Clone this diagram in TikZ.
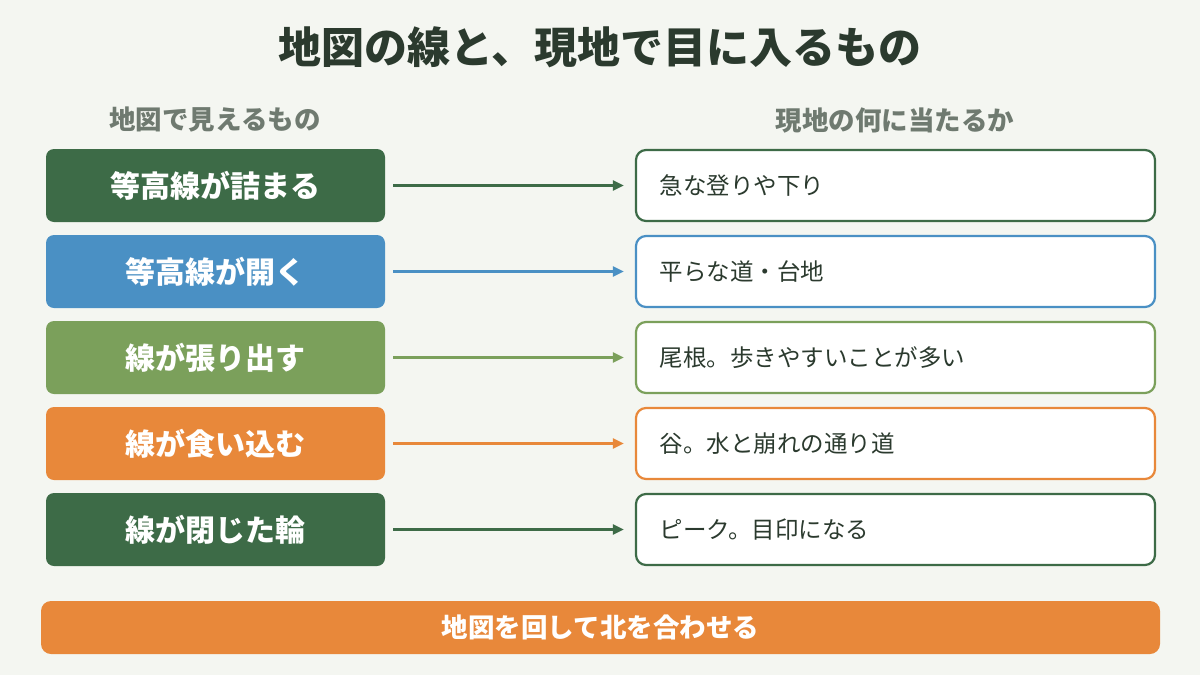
\documentclass[tikz,border=0pt]{standalone}
\usepackage{fontspec}
\setmainfont{Noto Sans CJK JP}
\usetikzlibrary{arrows.meta}
\definecolor{bg}{HTML}{F4F6F1}
\definecolor{dg}{HTML}{3D6B47}
\definecolor{bl}{HTML}{4A90C4}
\definecolor{lg}{HTML}{7BA05B}
\definecolor{og}{HTML}{E8883A}
\definecolor{tx}{HTML}{2B3A2E}
\definecolor{gr}{HTML}{6F7A70}
\begin{document}
\begin{tikzpicture}[x=1pt,y=-1pt,
 lbox/.style={rounded corners=8pt,minimum width=339pt,minimum height=73pt,text=white,font=\fontsize{30}{34}\selectfont\bfseries,inner sep=0pt},
 rbox/.style={rounded corners=10pt,fill=white,line width=2.2pt,minimum width=519pt,minimum height=71pt,text=tx,font=\fontsize{23.5}{28}\selectfont,inner sep=0pt,text width=472pt,align=left},
 arr/.style={line width=2.2pt,-{Triangle[length=11pt,width=10pt]}},
 head/.style={text=gr,font=\fontsize{26.5}{30}\selectfont\bfseries}]
\fill[bg] (0,0) rectangle (1200,675);
\useasboundingbox (0,0) rectangle (1200,675);
\node[text=tx,font=\fontsize{43}{48}\selectfont\bfseries] (title) at (600,47) {地図の線と、現地で目に入るもの};
\node[head] (hl) at (215,120) {地図で見えるもの};
\node[head] (hr) at (895,120) {現地の何に当たるか};
\foreach \i/\c/\l/\r in {0/dg/等高線が詰まる/急な登りや下り,1/bl/等高線が開く/平らな道・台地,2/lg/線が張り出す/尾根。歩きやすいことが多い,3/og/線が食い込む/谷。水と崩れの通り道,4/dg/線が閉じた輪/ピーク。目印になる}{
 \node[lbox,fill=\c] (l\i) at (215.5,185.5+86*\i) {\l};
 \node[rbox,draw=\c] (r\i) at (895.5,185.5+86*\i) {\r};
 \draw[arr,draw=\c] ([xshift=8pt]l\i.east) -- ([xshift=-11pt]r\i.west);
}
\node[rounded corners=10pt,fill=og,minimum width=1119pt,minimum height=53pt,text=white,font=\fontsize{26.5}{30}\selectfont\bfseries] (bar) at (600.5,627.5) {地図を回して北を合わせる};
\end{tikzpicture}
\end{document}
